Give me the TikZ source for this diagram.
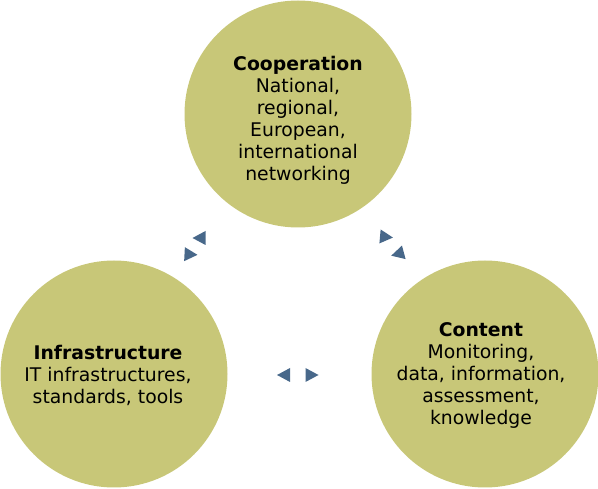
\documentclass[tikz,border=0pt]{standalone}
\usepackage{fontspec}
\setmainfont{DejaVu Sans}
\usepackage{tikz}
\usetikzlibrary{positioning}

\definecolor{olivefill}{RGB}{200,199,120}
\definecolor{headblue}{RGB}{72,104,138}

\tikzset{
    area/.style={circle, fill=olivefill, minimum size=227pt, inner sep=0pt},
    areatext/.style={align=center, text=black, font=\fontsize{18.8}{22}\selectfont},
    headmark/.pic={\fill[headblue] (6.5,0) -- (-6.5,7) -- (-6.5,-7) -- cycle;}
}

\begin{document}
\begin{tikzpicture}[x=1pt, y=-1pt]
    \useasboundingbox (0,0) rectangle (598,489);

    % Draw the three circles
    \node[area] (Coop) at (298,114) {};
    \node[area] (Infra) at (114,374) {};
    \node[area] (Content) at (485,374) {};

    % Texts inside the circles
    \node[areatext] (CoopText) at ([yshift=-6pt]Coop.center)
        {\textbf{Cooperation}\\ National,\\ regional,\\ European,\\ international\\ networking};
    \node[areatext] (InfraText) at ([xshift=-6pt, yshift=-1pt]Infra.center)
        {\textbf{Infrastructure}\\ IT infrastructures,\\ standards, tools};
    \node[areatext] (ContentText) at ([xshift=-4pt, yshift=-1pt]Content.center)
        {\textbf{Content}\\ Monitoring,\\ data, information,\\ assessment,\\ knowledge};

    % Small arrow heads between the circles
    \foreach \x/\y/\a in {199/238/180, 191/254.5/-3, 386.5/237/-5, 397.5/254/195, 283.5/375/180, 312/375/0}
        \pic[rotate=\a] at (\x,\y) {headmark};

\end{tikzpicture}
\end{document}
